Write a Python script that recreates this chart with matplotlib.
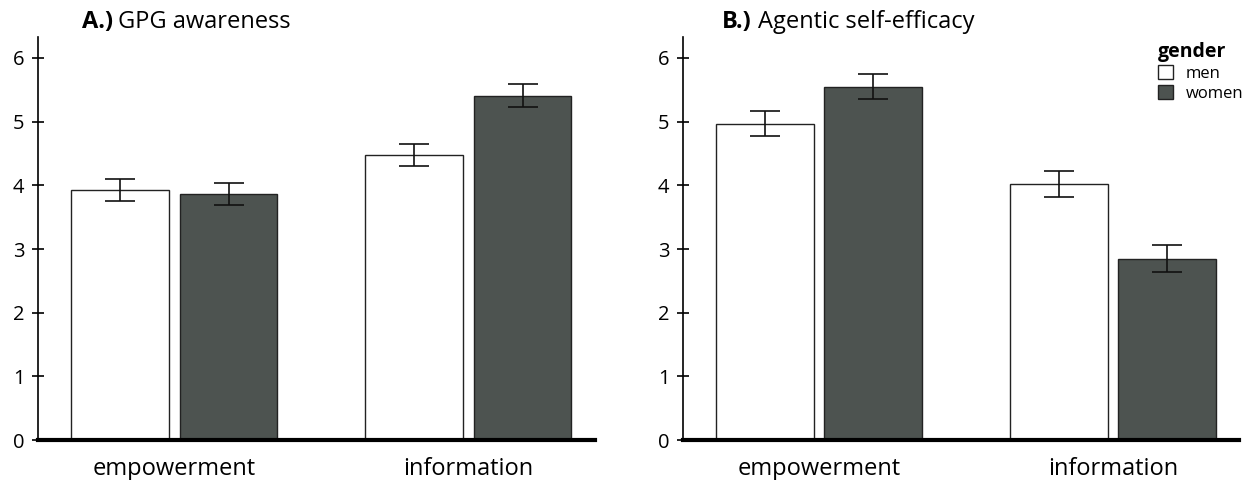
import matplotlib.pyplot as plt
import numpy as np
from matplotlib.patches import Patch

plt.rcParams['font.family'] = ['Open Sans', 'DejaVu Sans']

categories = ['empowerment', 'information']
genders = ['men', 'women']

gpg_men = [3.93, 4.48]
gpg_women = [3.86, 5.41]
gpg_men_err = [0.17, 0.17]
gpg_women_err = [0.17, 0.18]

agentic_men = [4.97, 4.02]
agentic_women = [5.55, 2.85]
agentic_men_err = [0.20, 0.21]
agentic_women_err = [0.20, 0.21]

colors = ['white', '#4d5350']
width = 0.333
offset = 0.185

fig = plt.figure(figsize=(12.57, 4.8), dpi=100)
axA = fig.add_axes([0.030, 0.083, 0.443, 0.840])
axB = fig.add_axes([0.543, 0.083, 0.443, 0.840])


def draw(ax, men, women, men_err, women_err):
    x = np.arange(len(categories))
    for vals, errs, col, sign in [(men, men_err, colors[0], -1), (women, women_err, colors[1], 1)]:
        ax.bar(x + sign * offset, vals, width, color=col, edgecolor='#222222', linewidth=1.0,
               yerr=errs, capsize=11, error_kw={'elinewidth': 1.2, 'capthick': 1.2, 'ecolor': '#111111'})
    ax.set_xlim(-0.464, 1.43)
    ax.set_ylim(0, 6.33)
    ax.set_yticks(range(7))
    ax.set_xticks(x)
    ax.set_xticklabels(categories, fontsize=17)
    ax.tick_params(axis='x', length=0, pad=12)
    ax.tick_params(axis='y', direction='inout', length=9, width=1.2, labelsize=14.5, pad=5)
    ax.spines['top'].set_visible(False)
    ax.spines['right'].set_visible(False)
    ax.spines['left'].set_linewidth(1.2)
    ax.spines['bottom'].set_linewidth(3)


draw(axA, gpg_men, gpg_women, gpg_men_err, gpg_women_err)
draw(axB, agentic_men, agentic_women, agentic_men_err, agentic_women_err)

fig.text(0.065, 0.955, 'A.)', fontsize=17, fontweight='bold', va='center')
fig.text(0.094, 0.955, 'GPG awareness', fontsize=17, va='center')
fig.text(0.574, 0.955, 'B.)', fontsize=17, fontweight='bold', va='center')
fig.text(0.603, 0.955, 'Agentic self-efficacy', fontsize=17, va='center')

handles = [Patch(facecolor=c, edgecolor='#222222', label=g) for c, g in zip(colors, genders)]
leg = axB.legend(handles=handles, title='gender', loc='upper left', bbox_to_anchor=(0.826, 1.025),
                 frameon=False, fontsize=12, handlelength=0.9, handleheight=0.9,
                 handletextpad=0.8, labelspacing=0.2)
leg.get_title().set_fontweight('bold')
leg.get_title().set_fontsize(14)
leg._legend_box.align = 'left'

plt.savefig('out.png', dpi=100)
plt.close()
